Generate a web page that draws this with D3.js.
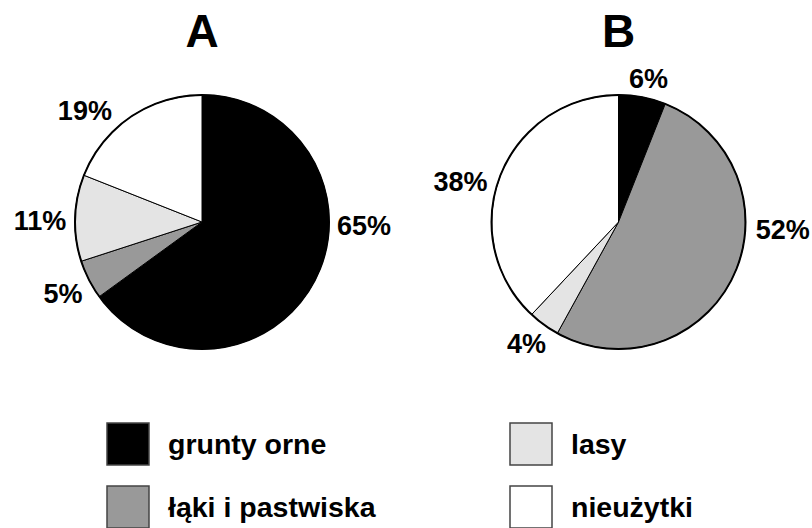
<!DOCTYPE html>
<html>
<head>
<meta charset="utf-8">
<script src="https://cdn.jsdelivr.net/npm/d3@7"></script>
<style>
  html, body { margin: 0; padding: 0; background: #fff; }
  svg { display: block; font-family: "Liberation Sans", Arial, sans-serif; font-weight: bold; }
</style>
</head>
<body>
<script>
// land use categories (legend order)
const categories = ['grunty orne', 'łąki i pastwiska', 'lasy', 'nieużytki']
const panels = ['A', 'B']
const valuesA = [65, 5, 11, 19]
const valuesB = [6, 52, 4, 38]

const config = {
  width: 812,
  height: 528,
  radius: 127,
  labelRadius: 155,
  centers: [[202, 222], [618.5, 222]],
  colors: ['#000000', '#999999', '#e4e4e4', '#ffffff'],
  labelSize: 27,
  titleSize: 46,
  legendSize: 28.5,
  box: 42
}

// nudges for the percentage labels, relative to the arc centroid
const labelNudge = [
  [[24, -67], [-1, 1], [-7, 3], [-30, 16]],
  [[1, 8], [24, -59], [-1, -4], [-14, 16]]
]

const svg = d3.select('body').append('svg')
  .attr('width', config.width)
  .attr('height', config.height)

const color = d3.scaleOrdinal().domain(categories).range(config.colors)

const pie = d3.pie().sort(null).value(d => d.value)
const arc = d3.arc().innerRadius(0).outerRadius(config.radius)
const labelArc = d3.arc().innerRadius(config.labelRadius).outerRadius(config.labelRadius)

const series = [valuesA, valuesB]

series.forEach((vals, p) => {
  const data = vals.map((v, i) => ({ cat: categories[i], value: v }))
  const [cx, cy] = config.centers[p]
  const g = svg.append('g').attr('transform', `translate(${cx},${cy})`)

  g.selectAll('path.slice')
    .data(pie(data)).enter().append('path')
    .attr('class', 'slice')
    .attr('d', arc)
    .attr('fill', d => color(d.data.cat))
    .attr('stroke', '#000')
    .attr('stroke-width', 1)

  // outer rim
  g.append('circle')
    .attr('r', config.radius)
    .attr('fill', 'none')
    .attr('stroke', '#000')
    .attr('stroke-width', 2)

  g.selectAll('text.lbl')
    .data(pie(data)).enter().append('text')
    .attr('class', 'lbl')
    .attr('x', (d, i) => labelArc.centroid(d)[0] + labelNudge[p][i][0])
    .attr('y', (d, i) => labelArc.centroid(d)[1] + labelNudge[p][i][1] + 10)
    .attr('text-anchor', 'middle')
    .attr('font-size', config.labelSize)
    .text(d => d.data.value + '%')

  svg.append('text')
    .attr('x', cx)
    .attr('y', 47)
    .attr('text-anchor', 'middle')
    .attr('font-size', config.titleSize)
    .text(panels[p])
})

// legend, two columns
const legendPos = [[107, 423], [107, 486], [510, 423], [510, 486]]
const legend = svg.selectAll('g.legend')
  .data(categories).enter().append('g')
  .attr('class', 'legend')
  .attr('transform', (d, i) => `translate(${legendPos[i][0]},${legendPos[i][1]})`)

legend.append('rect')
  .attr('width', config.box)
  .attr('height', config.box)
  .attr('fill', d => color(d))
  .attr('stroke', '#444')
  .attr('stroke-width', 1.5)

legend.append('text')
  .attr('x', 61)
  .attr('y', 31)
  .attr('font-size', config.legendSize)
  .text(d => d)
</script>
</body>
</html>
